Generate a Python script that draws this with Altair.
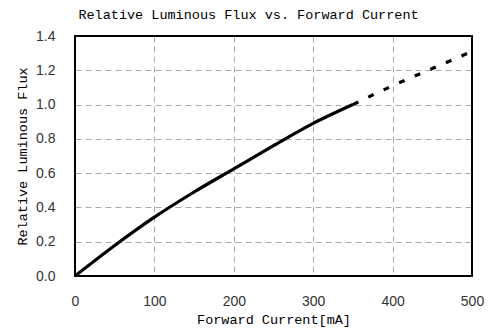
import altair as alt
import pandas as pd

# Measured curve (solid part)
solid_current = [0, 50, 100, 150, 200, 250, 300, 350]
solid_flux = [0.0, 0.178, 0.343, 0.49, 0.625, 0.76, 0.89, 1.0]
# Extrapolated curve (dashed part)
dash_current = [350, 400, 450, 500]
dash_flux = [1.0, 1.11, 1.21, 1.31]

x_ticks = [0, 100, 200, 300, 400, 500]
y_ticks = [0.0, 0.2, 0.4, 0.6, 0.8, 1.0, 1.2, 1.4]

df_solid = pd.DataFrame({"current": solid_current, "flux": solid_flux, "part": "measured"})
df_dash = pd.DataFrame({"current": dash_current, "flux": dash_flux, "part": "extrapolated"})

MONO = "Liberation Mono"
SANS = "Liberation Sans"
W, H = 397, 240

x_enc = alt.X(
    "current:Q",
    scale=alt.Scale(domain=[0, 500], nice=False),
    axis=alt.Axis(
        values=x_ticks,
        title="Forward Current[mA]",
        titleFont=MONO, titleFontSize=13.5, titleFontWeight="normal", titleColor="#000",
        titlePadding=4,
        labelFont=SANS, labelFontSize=14, labelColor="#333", labelPadding=18,
        labelFlush=False, labelOverlap=False,
        domain=False, ticks=False,
        grid=True, gridColor="#aaaaaa", gridDash=[6, 4], gridWidth=1,
    ),
)
y_enc = alt.Y(
    "flux:Q",
    scale=alt.Scale(domain=[0, 1.4], nice=False),
    axis=alt.Axis(
        values=y_ticks,
        format=".1f",
        title="Relative Luminous Flux",
        titleFont=MONO, titleFontSize=13.5, titleFontWeight="normal", titleColor="#000",
        titlePadding=6,
        labelFont=SANS, labelFontSize=14, labelColor="#333", labelPadding=20,
        labelFlush=False, labelOverlap=False,
        domain=False, ticks=False,
        grid=True, gridColor="#aaaaaa", gridDash=[6, 4], gridWidth=1,
    ),
)

solid = alt.Chart(df_solid).mark_line(color="black", strokeWidth=3.2, interpolate="monotone").encode(
    x=x_enc, y=y_enc
)
dashed = alt.Chart(df_dash).mark_line(
    color="black", strokeWidth=3.2, strokeDash=[6, 11], interpolate="monotone"
).encode(x=x_enc, y=y_enc)

frame = alt.Chart(df_solid).mark_rect(fill=None, stroke="black", strokeWidth=1.2).encode(
    x=alt.value(0), x2=alt.value(W), y=alt.value(0), y2=alt.value(H)
)

chart = (
    alt.layer(solid, dashed, frame)
    .properties(
        width=W,
        height=H,
        background="white",
        autosize=alt.AutoSizeParams(type="none"),
        padding={"left": 67, "top": 28, "right": 12, "bottom": 56},
        title=alt.TitleParams(
            "Relative Luminous Flux vs. Forward Current",
            font=MONO, fontSize=13.5, fontWeight="normal", color="#000",
            anchor="middle", dx=-25, offset=8,
        ),
    )
    .configure_view(stroke=None)
)

chart.save("out.html", embed_options={"renderer": "svg", "actions": False})
